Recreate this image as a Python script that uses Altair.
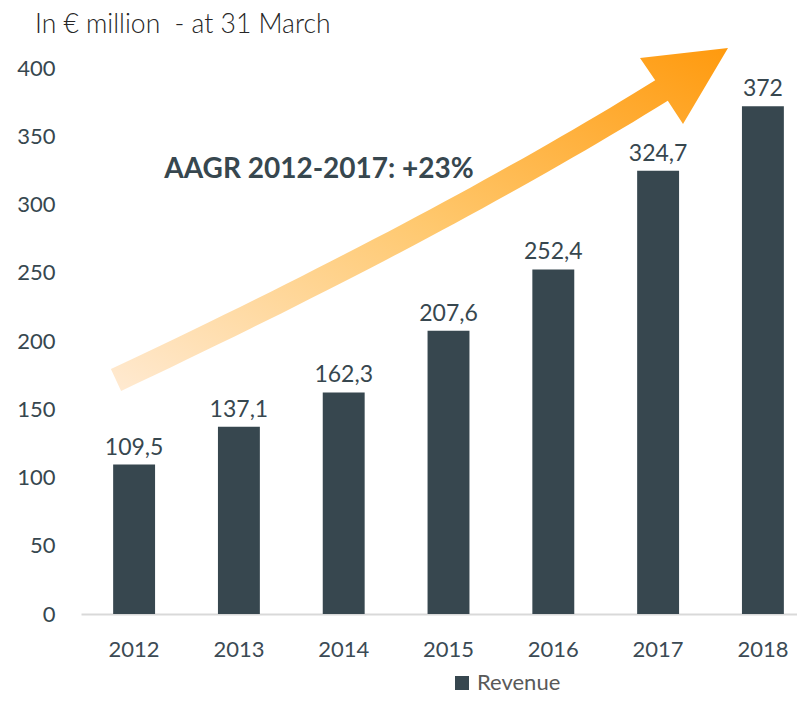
import altair as alt
import pandas as pd
import numpy as np

# ---- data ----
years = ["2012", "2013", "2014", "2015", "2016", "2017", "2018"]
revenue = [109.5, 137.1, 162.3, 207.6, 252.4, 324.7, 372.0]
series_name = "Revenue"
title_text = "In € million \u00a0- at 31 March"
aagr_text = "AAGR 2012-2017: +23%"
y_ticks = [0, 50, 100, 150, 200, 250, 300, 350, 400]

labels = [f"{v:g}".replace(".", ",") for v in revenue]
df = pd.DataFrame({"year": years, "value": revenue, "label": labels,
                   "series": [series_name] * len(years)})

BAR = "#37474F"
TXT = "#37474F"
FONT = "Lato"

# plot origin on the page
OX, OY = 81, 68

# ---- decorative growth arrow (pixel geometry, page coords) ----
P0 = np.array([116.0, 380.0])
C = np.array([441.0, 227.0])
P2 = np.array([661.5, 90.5])
half = 12.0
ts = np.linspace(0, 1, 40)
pts = np.array([(1 - t) ** 2 * P0 + 2 * (1 - t) * t * C + t ** 2 * P2 for t in ts])
tans = np.array([2 * (1 - t) * (C - P0) + 2 * t * (P2 - C) for t in ts])
tans = tans / np.linalg.norm(tans, axis=1)[:, None]
norms = np.stack([-tans[:, 1], tans[:, 0]], axis=1)
upper = pts - half * norms
lower = pts + half * norms
head_left = (640.0, 58.0)
head_tip = (728.0, 48.0)
head_right = (683.0, 124.0)
poly = list(map(tuple, upper)) + [head_left, head_tip, head_right] + list(map(tuple, lower[::-1]))
path = "M" + " L".join(f"{x - OX:.1f},{y - OY:.1f}" for x, y in poly) + " Z"

grad = alt.Gradient(
    gradient="linear",
    stops=[
        alt.GradientStop(offset=0, color="#FFEAD2"),
        alt.GradientStop(offset=0.5, color="#FFC86E"),
        alt.GradientStop(offset=1, color="#FF9A0E"),
    ],
    x1=0, y1=1, x2=1, y2=0,
)

arrow = alt.Chart(pd.DataFrame({"a": [0]})).mark_point(
    shape=path, size=4, filled=True, fill=grad, opacity=1, strokeWidth=0
).encode(x=alt.value(0), y=alt.value(0))

x_enc = alt.X(
    "year:N",
    sort=years,
    scale=alt.Scale(paddingInner=0.6, paddingOuter=0.216, align=0.71),
    axis=alt.Axis(
        title=None, labelAngle=0, ticks=False, domain=True, domainColor="#D9D9D9",
        domainWidth=2, labelFontSize=22, labelColor="#3B4A54", labelFont=FONT,
        labelPadding=25, grid=False,
    ),
)
y_enc = alt.Y(
    "value:Q",
    scale=alt.Scale(domain=[0, 400], nice=False),
    axis=alt.Axis(
        title=None, values=y_ticks, ticks=False, domain=False, grid=False,
        labelFontSize=22, labelColor=TXT, labelFont=FONT, labelPadding=26,
    ),
)

bars = alt.Chart(df).mark_bar().encode(
    x=x_enc,
    y=y_enc,
    color=alt.Color(
        "series:N",
        scale=alt.Scale(range=[BAR]),
        legend=alt.Legend(
            title=None, orient="none", legendX=370, legendY=604,
            symbolType="square", symbolSize=196, symbolStrokeWidth=0,
            labelFontSize=22, labelColor="#595959", labelFont=FONT,
            labelOffset=4,
        ),
    ),
)

bar_labels = alt.Chart(df).mark_text(
    baseline="alphabetic", dy=-10, fontSize=23, color=TXT, font=FONT
).encode(x=alt.X("year:N", sort=years), y="value:Q", text="label:N")

title = alt.Chart(pd.DataFrame({"t": [title_text]})).mark_text(
    align="left", baseline="middle", fontSize=26.5, fontWeight=300,
    color="#262626", font=FONT
).encode(x=alt.value(35 - OX), y=alt.value(25 - OY), text="t:N")

aagr = alt.Chart(pd.DataFrame({"t": [aagr_text]})).mark_text(
    align="center", baseline="middle", fontSize=28, fontWeight="bold",
    color=TXT, font=FONT
).encode(x=alt.value(319 - OX), y=alt.value(170 - OY), text="t:N")

chart = alt.layer(arrow, bars, bar_labels, title, aagr).properties(
    width=716,
    height=546,
    padding={"left": 73, "top": 60, "right": 0, "bottom": 82},
    autosize=alt.AutoSizeParams(type="none"),
).configure_view(stroke=None)

chart.save("out.html", embed_options={"renderer": "svg", "actions": False})
